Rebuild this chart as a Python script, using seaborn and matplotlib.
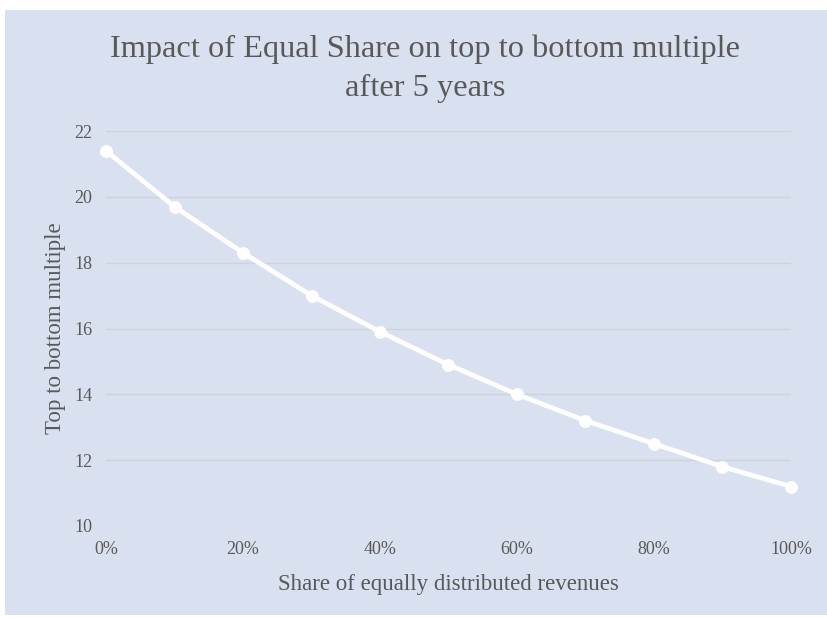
import matplotlib
matplotlib.use("Agg")
import matplotlib.pyplot as plt
import matplotlib.patches as mpatches
import seaborn as sns
import pandas as pd

share_pct = [0, 10, 20, 30, 40, 50, 60, 70, 80, 90, 100]
multiple = [21.4, 19.7, 18.3, 17.0, 15.9, 14.9, 14.0, 13.2, 12.5, 11.8, 11.2]
x_ticks = [0, 20, 40, 60, 80, 100]
x_tick_labels = ["0%", "20%", "40%", "60%", "80%", "100%"]
y_ticks = [10, 12, 14, 16, 18, 20, 22]

title = "Impact of Equal Share on top to bottom multiple\nafter 5 years"
x_label = "Share of equally distributed revenues"
y_label = "Top to bottom multiple"

bg = "#d9e1f0"
grid_c = "#cdd3dc"
text_c = "#595959"

sns.set_theme(style="white")
plt.rcParams["font.family"] = ["Liberation Serif", "DejaVu Serif"]

fig = plt.figure(figsize=(8.28, 6.17), dpi=100, facecolor="white")
fig.patches.append(mpatches.Rectangle((5 / 828, 2 / 617), 1 - 5 / 828, 1 - 12 / 617,
                                      transform=fig.transFigure, facecolor=bg,
                                      edgecolor="none", zorder=-10))
ax = fig.add_axes([106 / 828, 1 - 526 / 617, (791 - 106) / 828, (526 - 131) / 617])
ax.set_facecolor("none")

df = pd.DataFrame({"share": share_pct, "multiple": multiple})
sns.lineplot(data=df, x="share", y="multiple", ax=ax, color="white", linewidth=3.4,
             marker="o", markersize=8.5, markeredgecolor="white", clip_on=False, zorder=3)

ax.set_xlim(0, 100)
ax.set_ylim(10, 22)
ax.set_xticks(x_ticks)
ax.set_xticklabels(x_tick_labels)
ax.set_yticks(y_ticks)
ax.yaxis.grid(True, color=grid_c, linewidth=1)
ax.xaxis.grid(False)
for s in ax.spines.values():
    s.set_visible(False)
ax.tick_params(axis="both", length=0, labelsize=13, colors=text_c)
ax.tick_params(axis="y", pad=10)
ax.tick_params(axis="x", pad=10.5)

ax.set_xlabel(x_label, fontsize=16.5, color=text_c, labelpad=12)
ax.set_ylabel(y_label, fontsize=16.5, color=text_c, labelpad=6)
fig.text(425 / 828, 1 - 69 / 617, title, ha="center", va="center", fontsize=23.3,
         color=text_c, linespacing=1.45)

fig.savefig("out.png", dpi=100, facecolor="white")
